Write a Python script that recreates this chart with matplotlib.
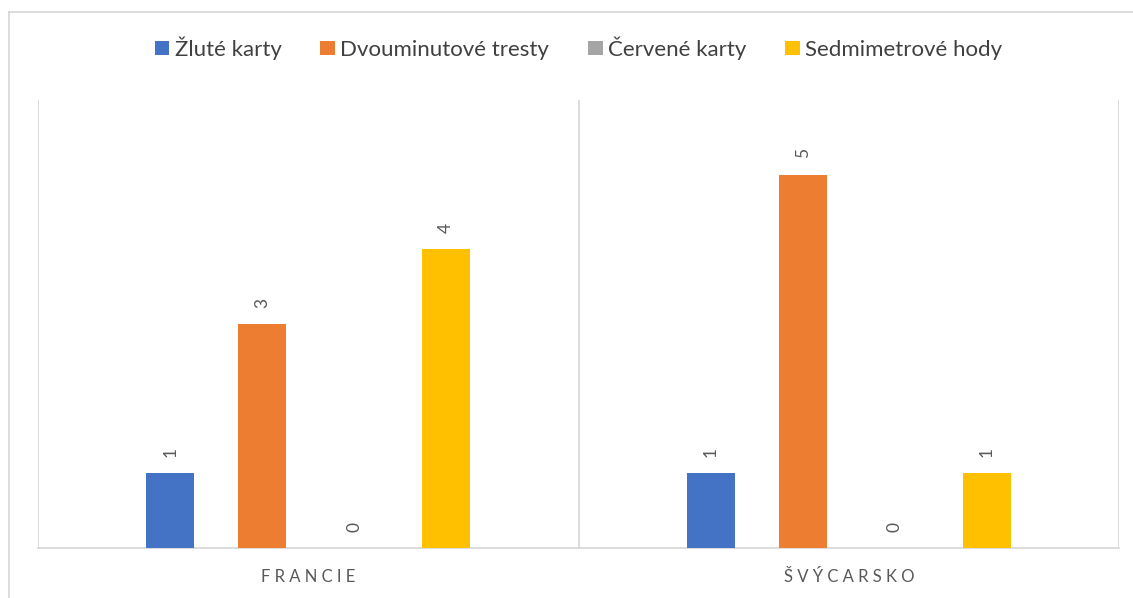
import matplotlib.pyplot as plt
import numpy as np

plt.rcParams['font.family'] = ['Lato', 'DejaVu Sans']

categories = ['FRANCIE', 'ŠVÝCARSKO']
series = ['Žluté karty', 'Dvouminutové tresty', 'Červené karty', 'Sedmimetrové hody']
values = [[1, 1], [3, 5], [0, 0], [4, 1]]
colors = ['#4472C4', '#ED7D31', '#A5A5A5', '#FFC000']

fig = plt.figure(figsize=(11.33, 5.98), dpi=100)
# plot area in pixels: x 38..1119, y 100..548
ax = fig.add_axes([38/1133, 1-548/598, (1119-38)/1133, (548-100)/598])

x = np.arange(len(categories))
step = 0.17
w = 0.089
for i, (name, vals, c) in enumerate(zip(series, values, colors)):
    pos = x + (i - 1.5)*step
    bars = ax.bar(pos, vals, w, color=c, label=name, zorder=3)
    for p, v in zip(pos, vals):
        ax.text(p, v + 0.22, str(v), rotation=90, ha='center', va='bottom',
                color='#595959', fontsize=12.5)

ax.set_xlim(-0.5, len(categories) - 0.5)
ax.set_ylim(0, 6)
ax.set_yticks([])
ax.set_xticks([])
for s in ['top', 'left', 'right']:
    ax.spines[s].set_visible(False)
ax.spines['bottom'].set_color('#D9D9D9')
ax.spines['bottom'].set_linewidth(1.3)
for b in [-0.5, 0.5, 1.5]:
    ax.axvline(b, color='#D9D9D9', lw=1.3, zorder=1)

for xi, name in zip(x, categories):
    ax.text(xi, -0.39, ' '.join(name), ha='center', va='center',
            color='#595959', fontsize=12, transform=ax.transData, clip_on=False)

ax.legend(loc='center', bbox_to_anchor=(0.5 + 12/1133, 1-48/598), bbox_transform=fig.transFigure,
          ncol=4, frameon=False, fontsize=16, handlelength=0.65, handleheight=0.65,
          handletextpad=0.25, columnspacing=1.75, labelcolor='#404040')

# chart border (left and top visible)
fig.add_artist(plt.Line2D([9/1133, 9/1133], [0, 1-12/598], color='#D9D9D9', lw=1.3))
fig.add_artist(plt.Line2D([9/1133, 1], [1-12/598, 1-12/598], color='#D9D9D9', lw=1.3))

plt.savefig('out.png', dpi=100)
